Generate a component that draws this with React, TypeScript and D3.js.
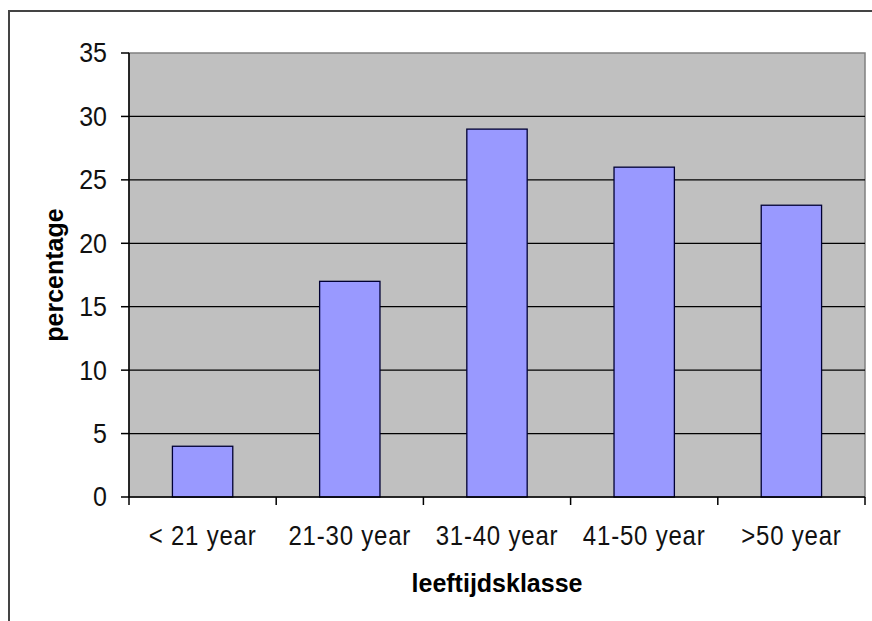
import React from "react";
import * as d3 from "d3";

const categories = ["< 21 year", "21-30 year", "31-40 year", "41-50 year", ">50 year"];
const values = [4, 17, 29, 26, 23];
const yTicks = [0, 5, 10, 15, 20, 25, 30, 35];
const yTitle = "percentage";
const xTitle = "leeftijdsklasse";

const W = 872;
const H = 621;
const plot = { left: 129, right: 865, top: 53, bottom: 497 };

export default function App() {
  const x = d3
    .scaleBand<string>()
    .domain(categories)
    .range([plot.left, plot.right])
    .paddingInner(0.59)
    .paddingOuter(0.295);
  const step = x.step();
  const y = d3.scaleLinear().domain([0, 35]).range([plot.bottom, plot.top]);
  const font = "'Liberation Sans', Arial, sans-serif";
  const boundaries = d3.range(categories.length + 1).map((i) => plot.left + i * step);

  return (
    <svg
      width={W}
      height={H}
      style={{ position: "absolute", left: 0, top: 0, background: "#fff" }}
      fontFamily={font}
    >
      <rect x={0} y={0} width={W} height={H} fill="#fff" />
      {/* outer chart border */}
      <line x1={9} y1={10} x2={9} y2={H} stroke="#444" strokeWidth={2} />
      <line x1={8} y1={11} x2={W} y2={11} stroke="#444" strokeWidth={2} />

      {/* plot area */}
      <rect
        x={plot.left}
        y={plot.top}
        width={plot.right - plot.left}
        height={plot.bottom - plot.top}
        fill="#c0c0c0"
        stroke="#808080"
        strokeWidth={1.5}
      />
      {yTicks
        .filter((t) => t > 0 && t < 35)
        .map((t) => (
          <line
            key={"g" + t}
            x1={plot.left}
            x2={plot.right}
            y1={y(t)}
            y2={y(t)}
            stroke="#000"
            strokeWidth={1.3}
          />
        ))}

      {/* bars */}
      {categories.map((c, i) => (
        <rect
          key={c}
          x={x(c)}
          y={y(values[i])}
          width={x.bandwidth()}
          height={y(0) - y(values[i])}
          fill="#9999ff"
          stroke="#000033"
          strokeWidth={1.3}
        />
      ))}

      {/* axes */}
      <line x1={plot.left} x2={plot.left} y1={plot.top} y2={plot.bottom} stroke="#000" strokeWidth={1.5} />
      <line x1={plot.left} x2={plot.right} y1={plot.bottom} y2={plot.bottom} stroke="#000" strokeWidth={1.5} />
      {yTicks.map((t) => (
        <g key={"t" + t}>
          <line x1={plot.left - 8} x2={plot.left} y1={y(t)} y2={y(t)} stroke="#000" strokeWidth={1.5} />
          <text
            transform={`translate(107, ${y(t)}) scale(1, 1.1)`}
            textAnchor="end"
            dominantBaseline="central"
            fontSize={25}
            fill="#111"
          >
            {t}
          </text>
        </g>
      ))}
      {boundaries.map((b, i) => (
        <line key={"xt" + i} x1={b} x2={b} y1={plot.bottom} y2={plot.bottom + 8} stroke="#000" strokeWidth={1.5} />
      ))}
      {categories.map((c) => (
        <text
          key={"xl" + c}
          transform={`translate(${(x(c) as number) + x.bandwidth() / 2}, 545) scale(1, 1.15)`}
          textAnchor="middle"
          fontSize={24}
          letterSpacing={0.8}
          fill="#111"
        >
          {c}
        </text>
      ))}

      {/* titles */}
      <text
        x={(plot.left + plot.right) / 2}
        y={592}
        textAnchor="middle"
        fontSize={25}
        fontWeight="bold"
        fill="#000"
      >
        {xTitle}
      </text>
      <text
        transform={`translate(54, ${(plot.top + plot.bottom) / 2}) rotate(-90)`}
        textAnchor="middle"
        dominantBaseline="central"
        fontSize={25}
        fontWeight="bold"
        fill="#000"
      >
        {yTitle}
      </text>
    </svg>
  );
}
